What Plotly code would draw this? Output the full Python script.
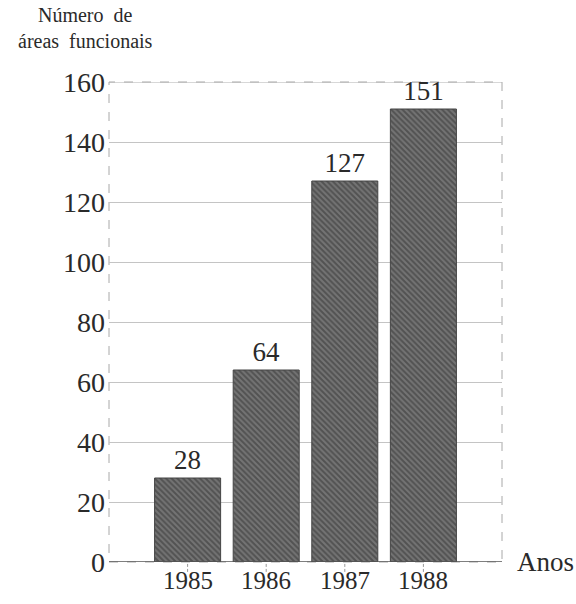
import plotly.graph_objects as go

# Number of functional areas per year
anos = ["1985", "1986", "1987", "1988"]
areas = [28, 64, 127, 151]
y_ticks = [0, 20, 40, 60, 80, 100, 120, 140, 160]

SERIF = "Liberation Serif"
INK = "#2a2a2a"
NB = "\u00a0"
xpos = list(range(len(anos)))

fig = go.Figure(
    go.Bar(
        x=xpos,
        y=areas,
        width=0.84,
        text=[str(v) for v in areas],
        textposition="outside",
        cliponaxis=False,
        textfont=dict(family=SERIF, size=27, color=INK),
        marker=dict(
            color="#555555",
            line=dict(width=1, color="#444444"),
            pattern=dict(shape="\\", fgcolor="#303030", bgcolor="#747474",
                         size=4, solidity=0.5, fillmode="overlay"),
        ),
        showlegend=False,
    )
)

# short dashed tick marks under each year
tick_shapes = [
    dict(type="line", xref="x", yref="paper", x0=i, x1=i, y0=-0.004, y1=-0.024,
         line=dict(color="#999", width=1, dash="3px,2px"))
    for i in xpos
]

# year labels just below the baseline
year_labels = [
    dict(text=a, xref="x", yref="y", x=i, y=0, yshift=-18,
         xanchor="center", yanchor="middle", showarrow=False,
         font=dict(family=SERIF, size=25, color=INK))
    for i, a in zip(xpos, anos)
]

fig.update_layout(
    width=576,
    height=604,
    margin=dict(l=109, r=74, t=82, b=42),
    paper_bgcolor="white",
    plot_bgcolor="white",
    font=dict(family=SERIF, color=INK),
    xaxis=dict(
        range=[-1, 4],
        showticklabels=False,
        ticks="",
        showgrid=False,
        zeroline=False,
        showline=False,
        automargin=False,
    ),
    yaxis=dict(
        range=[0, 160],
        tickvals=y_ticks,
        tickfont=dict(family=SERIF, size=28, color=INK),
        ticks="",
        ticklabelstandoff=3,
        showgrid=True,
        gridcolor="#c4c4c4",
        gridwidth=1,
        zeroline=False,
        showline=False,
        automargin=False,
    ),
    shapes=[
        # dashed frame around the plotting area
        dict(type="rect", xref="paper", yref="paper", x0=0, x1=1, y0=0, y1=1,
             line=dict(color="#a8a8a8", width=1, dash="dash"), layer="below"),
        # solid top line and baseline
        dict(type="line", xref="paper", yref="y", x0=0, x1=1, y0=160, y1=160,
             line=dict(color="#b0b0b0", width=1), layer="below"),
        dict(type="line", xref="paper", yref="y", x0=0, x1=1, y0=0, y1=0,
             line=dict(color="#555", width=1.3), layer="above"),
    ] + tick_shapes,
    annotations=[
        dict(text=f"Número{NB}{NB}de<br>áreas{NB}{NB}funcionais",
             xref="paper", yref="paper",
             x=-0.06, y=1.0, yshift=80, xanchor="center", yanchor="top",
             showarrow=False, align="center",
             font=dict(family=SERIF, size=20, color=INK)),
        dict(text="Anos", xref="paper", yref="y", x=1.0, y=0, xshift=13,
             xanchor="left", yanchor="middle", showarrow=False,
             font=dict(family=SERIF, size=27, color=INK)),
    ] + year_labels,
)

fig.write_html("out.html")
